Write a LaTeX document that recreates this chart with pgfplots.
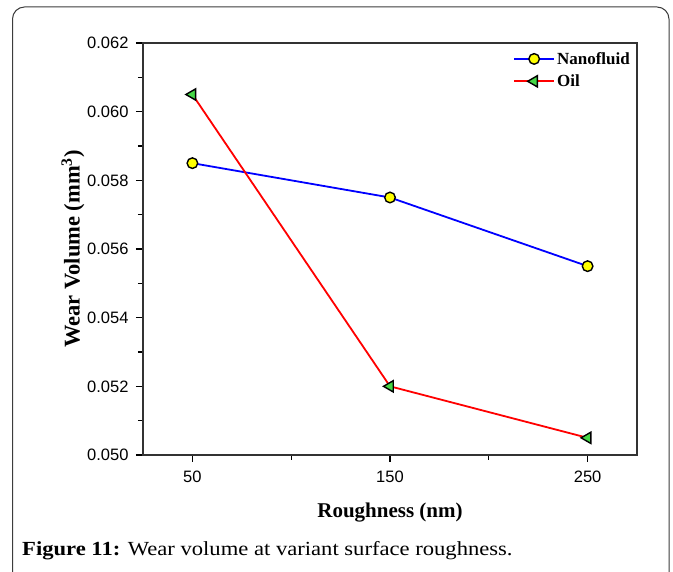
\documentclass[border=0pt]{standalone}
\usepackage{fontspec}
\setmainfont{Liberation Serif}
\newfontfamily\arial{Liberation Sans}
\usepackage{pgfplots}
\pgfplotsset{compat=1.18}
\definecolor{mkgreen}{RGB}{70,215,70}
\definecolor{mkyellow}{RGB}{255,255,0}
\definecolor{frame}{RGB}{60,60,60}
\begin{document}
\begin{tikzpicture}
\useasboundingbox (0pt,0pt) rectangle (673pt,572pt);
\draw[frame,line width=1pt,rounded corners=12pt] (12.5pt,-20pt) -- (12.5pt,565pt) -- (669pt,565pt) -- (669pt,-20pt);
\begin{axis}[
  at={(143pt,117pt)}, anchor=south west,
  scale only axis, width=494pt, height=412pt,
  xmin=25, xmax=275, ymin=0.050, ymax=0.062,
  xtick={50,150,250}, minor xtick={100,200},
  ytick={0.050,0.052,0.054,0.056,0.058,0.060,0.062},
  minor ytick={0.051,0.053,0.055,0.057,0.059,0.061},
  tick align=outside, xtick pos=bottom, ytick pos=left,
  major tick length=7pt, minor tick length=5pt,
  every tick/.style={black,line width=1.2pt},
  axis line style={line width=1.5pt, black!80},
  yticklabel style={xshift=-4pt, /pgf/number format/.cd,fixed,fixed zerofill,precision=3},
  xticklabel style={yshift=-5pt},
  /pgf/number format/assume math mode=true,
  ticklabel style={font=\arial\fontsize{16.5}{18}\selectfont},
  scaled y ticks=false,
  xlabel={\textbf{Roughness (nm)}},
  ylabel={\textbf{Wear Volume (mm\textsuperscript{3})}},
  xlabel style={font=\fontsize{21}{23}\selectfont, yshift=-14pt},
  ylabel style={font=\fontsize{22.5}{24}\selectfont, yshift=-4pt},
  legend style={draw=none, fill=none, at={(1,1)}, anchor=north east, xshift=-2pt, yshift=-5pt,
    font=\bfseries\fontsize{17}{19}\selectfont, row sep=5pt,
    /tikz/every even column/.append style={column sep=0pt}},
  legend cell align=left,
  legend image code/.code={
    \draw[mark repeat=2,mark phase=2] plot coordinates {(0pt,0pt) (20pt,0pt) (40pt,0pt)};
  },
]
\addplot[blue, line width=1.8pt, mark=*, mark size=5.3pt,
  mark options={fill=mkyellow, draw=black, line width=1.4pt}]
  coordinates {(50,0.0585) (150,0.0575) (250,0.0555)};
\addlegendentry{Nanofluid}
\addplot[red, line width=1.8pt, mark=triangle*, mark size=6.5pt,
  mark options={fill=mkgreen, draw=black, line width=1.4pt, rotate=90}]
  coordinates {(50,0.0605) (150,0.0520) (250,0.0505)};
\addlegendentry{Oil}
\end{axis}
\node[anchor=base west, font=\fontsize{20}{22}\selectfont, inner sep=0] at (22pt,16pt) {\scalebox{1.13}[1]{\textbf{Figure 11:} Wear volume at variant surface roughness.}};
\end{tikzpicture}
\end{document}
